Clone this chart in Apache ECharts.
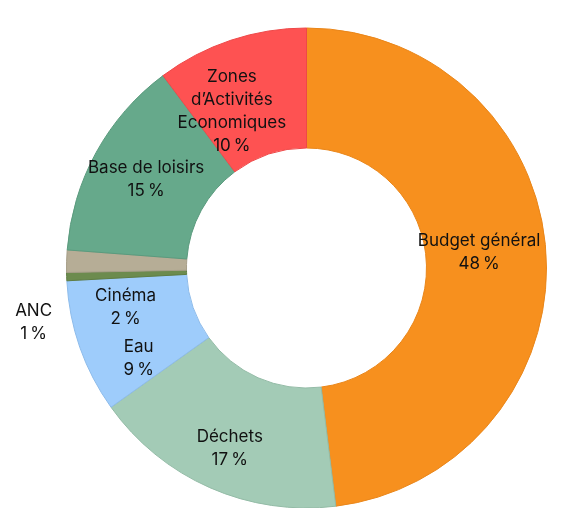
<!DOCTYPE html>
<html>
<head>
<meta charset="utf-8">
<script src="https://cdn.jsdelivr.net/npm/echarts@6/dist/echarts.min.js"></script>
<style>
  html, body { margin: 0; padding: 0; background: #fff; }
  #chart { width: 567px; height: 508px; }
</style>
</head>
<body>
<div id="chart"></div>
<script>
// clockwise from 12 o'clock
const names = ["Budget général", "Déchets", "Eau", "ANC", "Cinéma", "Base de loisirs", "Zones\nd’Activités\nEconomiques"];
// slice sizes (angles)
const shares = [48.05, 17.1, 9.0, 0.55, 1.5, 13.6, 10.2];
// percentages printed on the labels
const printed = [48, 17, 9, 1, 2, 15, 10];

const colors = ["#F7901E", "#A3CBB6", "#9ECCFB", "#6C8B4E", "#B6AD96", "#66A98B", "#FE5252"];
const borders = ["#E9861A", "#93BBA6", "#8DBBEA", "#5E7C42", "#A69E88", "#5A9A7D", "#EE4848"];

// nudges for a few labels (dx, dy)
const labelShift = { 0: [-10, -4], 1: [-3, 13], 2: [5, 30], 3: [-90, 48], 4: [2, 45], 6: [-17, 17] };

const chart = echarts.init(document.getElementById("chart"));

const data = names.map((n, i) => ({
  name: n,
  value: shares[i],
  itemStyle: { color: colors[i], borderColor: borders[i], borderWidth: 1 }
}));

chart.setOption({
  animation: false,
  series: [
    {
      type: "pie",
      center: [306.5, 268],
      radius: [120, 240],
      startAngle: 90,
      clockwise: true,
      avoidLabelOverlap: false,
      data: data,
      label: {
        show: true,
        position: "inside",
        color: "#111",
        fontFamily: "Inter",
        fontSize: 17,
        lineHeight: 23,
        formatter: (p) => p.name + "\n" + printed[p.dataIndex] + "\u202f%"
      },
      labelLine: { show: false },
      labelLayout: (params) => {
        const s = labelShift[params.dataIndex];
        return s ? { dx: s[0], dy: s[1] } : {};
      },
      emphasis: { disabled: true }
    }
  ]
});
</script>
</body>
</html>
